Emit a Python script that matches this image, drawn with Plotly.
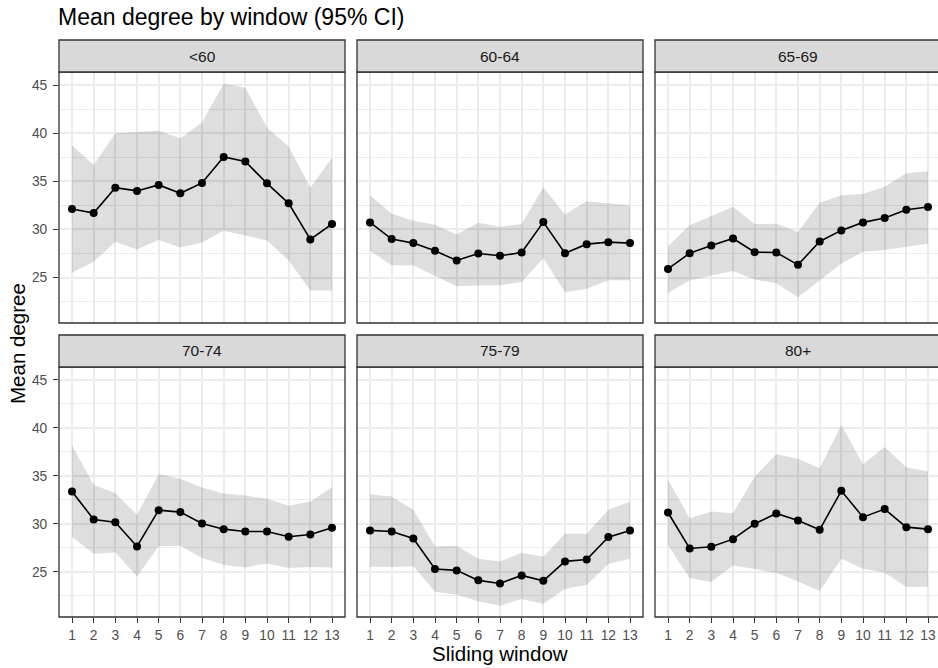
import plotly.graph_objects as go

# ---------------- data ----------------
windows = list(range(1, 14))
x_ticks = [str(i) for i in windows]
panels = ["<60", "60-64", "65-69", "70-74", "75-79", "80+"]

mean_lt60 = [32.12, 31.70, 34.34, 34.00, 34.62, 33.75, 34.83, 37.53, 37.05, 34.79, 32.71, 28.96, 30.56]
hi_lt60 = [38.75, 36.70, 40.00, 40.10, 40.24, 39.48, 41.10, 45.14, 44.72, 40.59, 38.60, 34.34, 37.47]
lo_lt60 = [25.49, 26.63, 28.72, 27.92, 28.89, 28.12, 28.65, 29.86, 29.37, 28.85, 26.77, 23.65, 23.65]

mean_6064 = [30.73, 29.00, 28.58, 27.78, 26.77, 27.50, 27.26, 27.60, 30.76, 27.53, 28.47, 28.68, 28.58]
hi_6064 = [33.54, 31.63, 30.90, 30.49, 29.48, 30.69, 30.28, 30.56, 34.38, 31.56, 32.92, 32.71, 32.50]
lo_6064 = [27.78, 26.28, 26.25, 25.14, 24.10, 24.17, 24.20, 24.55, 27.01, 23.47, 23.85, 24.72, 24.72]

mean_6569 = [25.90, 27.53, 28.33, 29.06, 27.64, 27.60, 26.32, 28.75, 29.90, 30.73, 31.18, 32.05, 32.33]
hi_6569 = [28.26, 30.42, 31.39, 32.36, 30.56, 30.59, 29.72, 32.78, 33.54, 33.68, 34.44, 35.83, 36.04]
lo_6569 = [23.40, 24.69, 25.21, 25.69, 24.79, 24.41, 22.95, 24.72, 26.46, 27.67, 27.85, 28.19, 28.51]

mean_7074 = [33.37, 30.45, 30.17, 27.64, 31.42, 31.22, 30.03, 29.44, 29.20, 29.20, 28.65, 28.89, 29.58]
hi_7074 = [38.16, 34.06, 33.19, 30.94, 35.17, 34.69, 33.78, 33.16, 32.95, 32.60, 31.88, 32.33, 33.82]
lo_7074 = [28.65, 26.88, 27.01, 24.51, 27.67, 27.71, 26.42, 25.73, 25.45, 25.87, 25.38, 25.49, 25.45]

mean_7579 = [29.31, 29.20, 28.47, 25.28, 25.14, 24.10, 23.78, 24.62, 24.06, 26.08, 26.28, 28.61, 29.31]
hi_7579 = [33.09, 32.85, 31.46, 27.67, 27.71, 26.35, 26.08, 26.98, 26.56, 28.96, 28.96, 31.46, 32.29]
lo_7579 = [25.52, 25.49, 25.56, 22.92, 22.60, 21.91, 21.46, 22.15, 21.63, 23.23, 23.61, 25.80, 26.35]

mean_80p = [31.18, 27.43, 27.60, 28.40, 30.00, 31.08, 30.35, 29.38, 33.44, 30.69, 31.53, 29.65, 29.44]
hi_80p = [34.58, 30.59, 31.28, 31.11, 34.93, 37.26, 36.77, 35.80, 40.31, 36.22, 38.02, 35.90, 35.45]
lo_80p = [27.74, 24.34, 23.92, 25.66, 25.28, 24.86, 23.99, 22.99, 26.35, 25.31, 24.90, 23.40, 23.44]

y_ticks = [25, 30, 35, 40, 45]
y_minor = [22.5, 27.5, 32.5, 37.5, 42.5]

series = [
    (mean_lt60, lo_lt60, hi_lt60),
    (mean_6064, lo_6064, hi_6064),
    (mean_6569, lo_6569, hi_6569),
    (mean_7074, lo_7074, hi_7074),
    (mean_7579, lo_7579, hi_7579),
    (mean_80p, lo_80p, hi_80p),
]

# ---------------- layout geometry (pixels) ----------------
W, H = 938, 668
col_px = [(59, 345), (357, 643), (655, 941)]
row_px = [(72, 323), (367, 617)]
strip_px = [(40, 72), (335, 367)]
px_per_unit = (345 - 59) / 13.2
x_lo = 0.4
y_range = [20.28, 46.35]

FONT = "Liberation Sans, Arial, sans-serif"
GRID = "#EBEBEB"
DARK = "#333333"

def px2x(p):
    return p / W

def px2y(p):
    return 1 - p / H

fig = go.Figure()
layout = dict(
    width=W, height=H,
    margin=dict(l=0, r=0, t=0, b=0),
    paper_bgcolor="white", plot_bgcolor="white",
    showlegend=False,
    font=dict(family=FONT, color="#4D4D4D", size=13.5),
)
shapes = []
annotations = []

for i, (name, (mean, lo, hi)) in enumerate(zip(panels, series)):
    r, c = divmod(i, 3)
    n = i + 1
    xa = "x" if n == 1 else f"x{n}"
    ya = "y" if n == 1 else f"y{n}"
    xl, xr = col_px[c]
    xr_vis = min(xr, W)
    yt, yb = row_px[r]
    x_hi = x_lo + (xr_vis - xl) / px_per_unit

    layout[f"xaxis{'' if n == 1 else n}"] = dict(
        domain=[px2x(xl), px2x(xr_vis)], anchor=ya,
        range=[x_lo, x_hi], tickmode="array", tickvals=windows, ticktext=x_ticks,
        showgrid=True, gridcolor=GRID, gridwidth=1.5, zeroline=False, showline=False,
        showticklabels=(r == 1), ticks="outside" if r == 1 else "",
        ticklen=5, tickwidth=1.2, tickcolor=DARK,
        tickfont=dict(family=FONT, size=13.8, color="#4D4D4D"),
    )
    layout[f"yaxis{'' if n == 1 else n}"] = dict(
        domain=[px2y(yb), px2y(yt)], anchor=xa,
        range=y_range, tickmode="array", tickvals=y_ticks,
        showgrid=True, gridcolor=GRID, gridwidth=1.5, zeroline=False, showline=False,
        minor=dict(tickmode="array", tickvals=y_minor,
                   showgrid=True, gridcolor=GRID, gridwidth=0.9),
        showticklabels=(c == 0), ticks="outside" if c == 0 else "",
        ticklen=5, tickwidth=1.2, tickcolor=DARK, ticklabelstandoff=3,
        tickfont=dict(family=FONT, size=13.8, color="#4D4D4D"),
    )

    # ribbon
    fig.add_trace(go.Scatter(x=windows, y=lo, xaxis=xa, yaxis=ya, mode="lines",
                             line=dict(width=0, color="rgba(0,0,0,0)"), hoverinfo="skip"))
    fig.add_trace(go.Scatter(x=windows, y=hi, xaxis=xa, yaxis=ya, mode="lines",
                             line=dict(width=0, color="rgba(0,0,0,0)"), fill="tonexty",
                             fillcolor="rgba(0,0,0,0.13)", hoverinfo="skip"))
    # mean line + points
    fig.add_trace(go.Scatter(x=windows, y=mean, xaxis=xa, yaxis=ya, mode="lines+markers",
                             line=dict(color="black", width=1.6),
                             marker=dict(color="black", size=8), cliponaxis=False))

    # panel border
    shapes.append(dict(type="rect", xref="paper", yref="paper",
                       x0=px2x(xl), x1=px2x(xr), y0=px2y(yb), y1=px2y(yt),
                       line=dict(color=DARK, width=1.3), fillcolor="rgba(0,0,0,0)", layer="above"))
    # strip
    st, sb = strip_px[r]
    shapes.append(dict(type="rect", xref="paper", yref="paper",
                       x0=px2x(xl), x1=px2x(xr), y0=px2y(sb), y1=px2y(st),
                       line=dict(color=DARK, width=1.3), fillcolor="#D9D9D9", layer="above"))
    annotations.append(dict(text=name, xref="paper", yref="paper",
                            x=px2x((xl + xr) / 2), y=px2y((st + sb) / 2),
                            xanchor="center", yanchor="middle", showarrow=False,
                            font=dict(family=FONT, size=15.5, color="#1A1A1A")))

# axis titles
annotations.append(dict(text="Sliding window", xref="paper", yref="paper",
                        x=px2x((59 + 941) / 2), y=px2y(653), xanchor="center", yanchor="middle",
                        showarrow=False, font=dict(family=FONT, size=20.5, color="black")))
annotations.append(dict(text="Mean degree", xref="paper", yref="paper",
                        x=px2x(18), y=px2y(344), xanchor="center", yanchor="middle",
                        textangle=-90, showarrow=False, font=dict(family=FONT, size=20.5, color="black")))

layout["shapes"] = shapes
layout["annotations"] = annotations
layout["title"] = dict(text="Mean degree by window (95% CI)", x=px2x(58), xanchor="left",
                       xref="paper", yref="paper", y=px2y(17), yanchor="middle",
                       font=dict(family=FONT, size=23, color="black"))
fig.update_layout(**layout)
fig.write_html("out.html")
